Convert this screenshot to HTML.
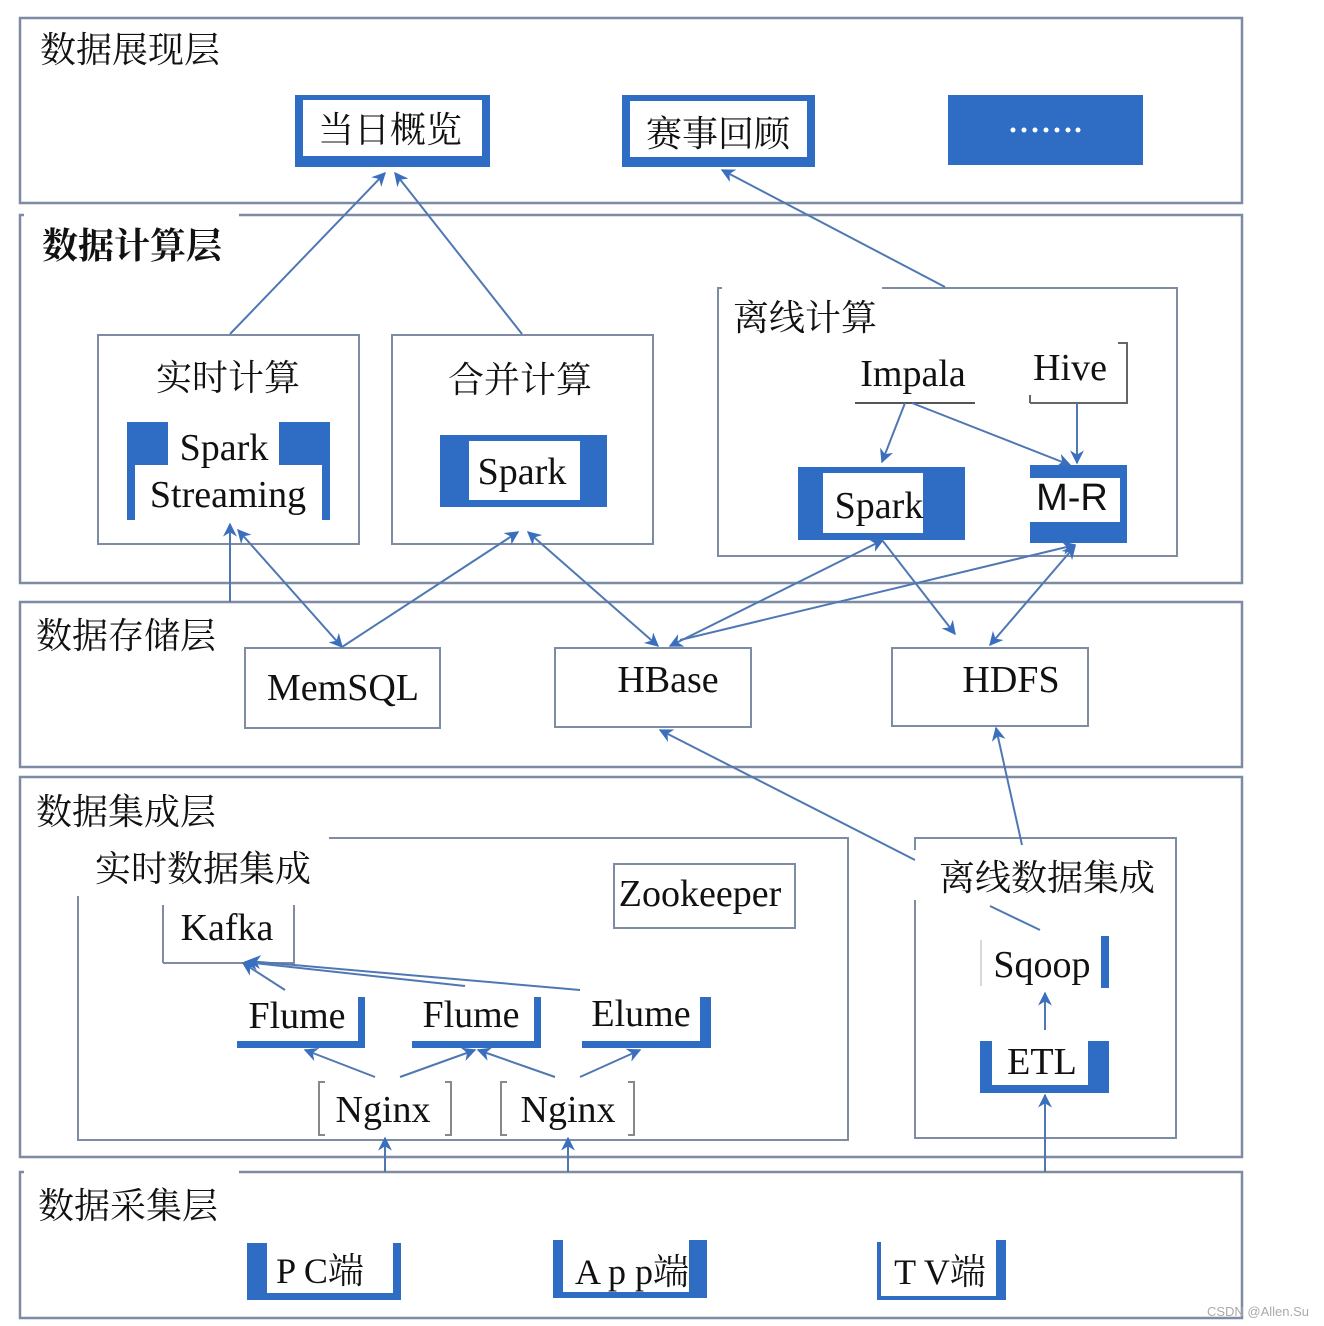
<!DOCTYPE html>
<html><head><meta charset="utf-8"><style>
html,body{margin:0;padding:0;background:#fff}
svg{display:block}
text{font-family:"Liberation Serif","Noto Serif CJK SC","Noto Sans CJK SC",serif;fill:#111}
</style></head><body>
<svg width="1324" height="1326" viewBox="0 0 1324 1326" xmlns="http://www.w3.org/2000/svg">
<defs>
<marker id="a" viewBox="0 0 10 10" refX="9" refY="5" markerWidth="7" markerHeight="7" orient="auto-start-reverse"><path d="M0,0L10,5L0,10L3,5z" fill="#3a6fbf"/></marker>
</defs>
<g fill="none" stroke="#7d8ca3" stroke-width="2.5">
<rect x="20" y="18" width="1222" height="185"/>
<rect x="20" y="215" width="1222" height="368"/>
<rect x="20" y="602" width="1222" height="165"/>
<rect x="20" y="777" width="1222" height="380"/>
<rect x="20" y="1172" width="1222" height="146"/>
</g>
<rect x="24" y="205" width="215" height="14" fill="#fff"/>
<rect x="24" y="1160" width="215" height="16" fill="#fff"/>
<g font-size="36">
<text x="40" y="62">数据展现层</text>
<text x="42" y="258" font-weight="bold">数据计算层</text>
<text x="36" y="648">数据存储层</text>
<text x="36" y="824">数据集成层</text>
<text x="38" y="1218">数据采集层</text>
</g>
<rect x="295" y="95" width="195" height="72" fill="#2f6cc4"/>
<rect x="303" y="100" width="179" height="56" fill="#fff"/>
<text x="390" y="142" font-size="36" text-anchor="middle">当日概览</text>
<rect x="622" y="95" width="193" height="72" fill="#2f6cc4"/>
<rect x="630" y="101" width="177" height="56" fill="#fff"/>
<text x="718" y="146" font-size="36" text-anchor="middle">赛事回顾</text>
<rect x="948" y="95" width="195" height="70" fill="#2f6cc4"/>
<g fill="#fff"><circle cx="1013" cy="130" r="2.5"/><circle cx="1024" cy="130" r="2.5"/><circle cx="1035" cy="130" r="2.5"/><circle cx="1046" cy="130" r="2.5"/><circle cx="1057" cy="130" r="2.5"/><circle cx="1068" cy="130" r="2.5"/><circle cx="1078" cy="130" r="2.5"/></g>
<g fill="none" stroke="#7d8ca3" stroke-width="2">
<rect x="98" y="335" width="261" height="209"/>
<rect x="392" y="335" width="261" height="209"/>
<rect x="718" y="288" width="459" height="268"/>
</g>
<rect x="722" y="282" width="160" height="14" fill="#fff"/>
<text x="228" y="390" font-size="36" text-anchor="middle">实时计算</text>
<text x="520" y="392" font-size="36" text-anchor="middle">合并计算</text>
<text x="805" y="330" font-size="36" text-anchor="middle">离线计算</text>
<g fill="#2f6cc4">
<rect x="127" y="422" width="41" height="43"/><rect x="127" y="422" width="8" height="98"/>
<rect x="279" y="422" width="51" height="43"/><rect x="322" y="422" width="8" height="98"/>
</g>
<text x="224" y="460" font-size="38" text-anchor="middle">Spark</text>
<text x="228" y="507" font-size="38" text-anchor="middle">Streaming</text>
<rect x="440" y="435" width="167" height="72" fill="#2f6cc4"/>
<rect x="469" y="441" width="111" height="59" fill="#fff"/>
<text x="522" y="484" font-size="38" text-anchor="middle">Spark</text>
<text x="913" y="386" font-size="38" text-anchor="middle">Impala</text>
<line x1="855" y1="403" x2="975" y2="403" stroke="#555" stroke-width="2"/>
<text x="1070" y="380" font-size="38" text-anchor="middle">Hive</text>
<path d="M1030,403V395M1030,403H1127V343H1118" fill="none" stroke="#666" stroke-width="2"/>
<rect x="798" y="467" width="167" height="73" fill="#2f6cc4"/>
<rect x="823" y="473" width="100" height="60" fill="#fff"/>
<text x="879" y="518" font-size="38" text-anchor="middle">Spark</text>
<rect x="1030" y="465" width="97" height="78" fill="#2f6cc4"/>
<rect x="1030" y="478" width="90" height="44" fill="#fff"/>
<text x="1072" y="510" font-size="38" text-anchor="middle" style="font-family:'Liberation Sans',sans-serif">M-R</text>
<g fill="#fff" stroke="#7d8ca3" stroke-width="2">
<rect x="245" y="648" width="195" height="80"/>
<rect x="555" y="648" width="196" height="79"/>
<rect x="892" y="648" width="196" height="78"/>
</g>
<text x="343" y="700" font-size="38" text-anchor="middle">MemSQL</text>
<text x="668" y="692" font-size="38" text-anchor="middle">HBase</text>
<text x="1011" y="692" font-size="38" text-anchor="middle">HDFS</text>
<g fill="none" stroke="#7d8ca3" stroke-width="2">
<rect x="78" y="838" width="770" height="302"/>
<rect x="915" y="838" width="261" height="300"/>
<rect x="614" y="864" width="181" height="64"/>
<path d="M163,963V905M163,963H294V905"/>
</g>
<rect x="74" y="830" width="255" height="66" fill="#fff"/>
<rect x="912" y="850" width="250" height="50" fill="#fff"/>
<text x="203" y="881" font-size="36" text-anchor="middle">实时数据集成</text>
<text x="1047" y="890" font-size="36" text-anchor="middle">离线数据集成</text>
<text x="700" y="906" font-size="38" text-anchor="middle">Zookeeper</text>
<text x="227" y="940" font-size="38" text-anchor="middle">Kafka</text>
<g fill="#2f6cc4">
<rect x="237" y="1041" width="128" height="7"/><rect x="358" y="997" width="7" height="51"/>
<rect x="412" y="1041" width="129" height="7"/><rect x="534" y="997" width="7" height="51"/>
<rect x="582" y="1041" width="129" height="7"/><rect x="700" y="997" width="11" height="51"/>
<rect x="1101" y="936" width="8" height="52"/>
<rect x="980" y="1041" width="12" height="52"/><rect x="1088" y="1041" width="21" height="52"/><rect x="980" y="1085" width="129" height="8"/>
</g>
<line x1="981" y1="940" x2="981" y2="986" stroke="#ccc" stroke-width="1.5"/>
<text x="297" y="1028" font-size="38" text-anchor="middle">Flume</text>
<text x="471" y="1027" font-size="38" text-anchor="middle">Flume</text>
<text x="641" y="1026" font-size="38" text-anchor="middle">Elume</text>
<text x="1042" y="977" font-size="38" text-anchor="middle">Sqoop</text>
<text x="1042" y="1074" font-size="38" text-anchor="middle">ETL</text>
<g fill="none" stroke="#888" stroke-width="2">
<path d="M325,1082h-6v53h6M445,1082h6v53h-6M507,1082h-6v53h6M628,1082h6v53h-6"/>
</g>
<text x="383" y="1122" font-size="38" text-anchor="middle">Nginx</text>
<text x="568" y="1122" font-size="38" text-anchor="middle">Nginx</text>
<rect x="247" y="1243" width="154" height="57" fill="#2f6cc4"/>
<rect x="267" y="1243" width="126" height="50" fill="#fff"/>
<text x="320" y="1283" font-size="36" text-anchor="middle">P C端</text>
<rect x="553" y="1240" width="154" height="58" fill="#2f6cc4"/>
<rect x="563" y="1240" width="126" height="52" fill="#fff"/>
<text x="632" y="1284" font-size="36" text-anchor="middle">A p p端</text>
<path d="M879,1242V1298H1004V1240" fill="none" stroke="#2f6cc4" stroke-width="4"/>
<rect x="996" y="1240" width="8" height="58" fill="#2f6cc4"/>
<text x="940" y="1284" font-size="36" text-anchor="middle">T  V端</text>
<text x="1258" y="1316" font-size="13" style="fill:#aaa;font-family:'Liberation Sans',sans-serif" text-anchor="middle">CSDN @Allen.Su</text>
<g stroke="#4f78b3" stroke-width="2" fill="none" marker-end="url(#a)">
<line x1="230" y1="334" x2="385" y2="173"/>
<line x1="522" y1="334" x2="395" y2="173"/>
<line x1="945" y1="287" x2="722" y2="170"/>
<line x1="230" y1="602" x2="230" y2="524"/>
<line x1="238" y1="530" x2="342" y2="647" marker-start="url(#a)"/>
<line x1="342" y1="647" x2="518" y2="532"/>
<line x1="528" y1="532" x2="658" y2="646" marker-start="url(#a)"/>
<line x1="905" y1="403" x2="882" y2="462"/>
<line x1="912" y1="403" x2="1070" y2="465"/>
<line x1="1077" y1="403" x2="1077" y2="463"/>
<line x1="670" y1="646" x2="883" y2="540" marker-start="url(#a)"/>
<line x1="680" y1="640" x2="1075" y2="545"/>
<line x1="882" y1="540" x2="955" y2="634"/>
<line x1="990" y1="645" x2="1075" y2="546" marker-start="url(#a)"/>
<line x1="915" y1="860" x2="660" y2="730"/>
<line x1="1022" y1="845" x2="996" y2="728"/>
<line x1="990" y1="906" x2="1040" y2="930" marker-end="none"/>
<line x1="1045" y1="1030" x2="1045" y2="993"/>
<line x1="1045" y1="1172" x2="1045" y2="1095"/>
<line x1="385" y1="1172" x2="385" y2="1138"/>
<line x1="568" y1="1172" x2="568" y2="1138"/>
<line x1="375" y1="1077" x2="305" y2="1050"/>
<line x1="400" y1="1077" x2="475" y2="1050"/>
<line x1="555" y1="1077" x2="478" y2="1050"/>
<line x1="580" y1="1077" x2="640" y2="1050"/>
<line x1="285" y1="990" x2="243" y2="963"/>
<line x1="465" y1="986" x2="245" y2="962"/>
<line x1="580" y1="990" x2="248" y2="961"/>
</g>
</svg>
</body></html>
